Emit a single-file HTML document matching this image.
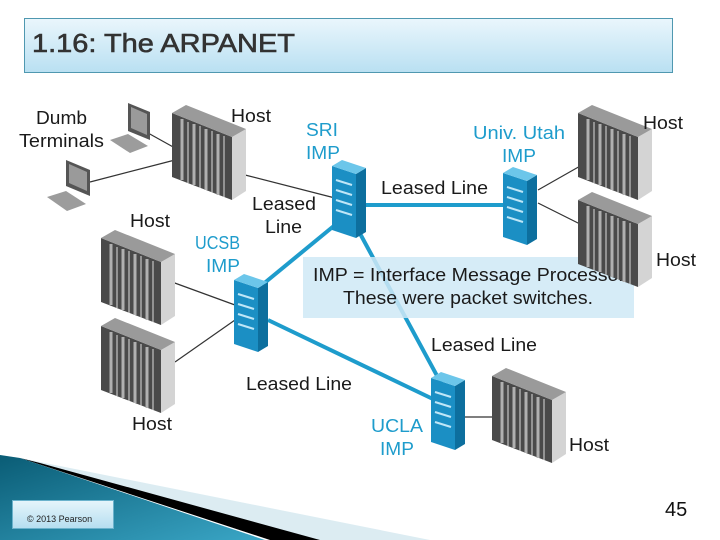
<!DOCTYPE html>
<html><head><meta charset="utf-8"><style>
html,body{margin:0;padding:0;background:#fff;}
svg{display:block;}
text{font-family:"Liberation Sans",Arial,sans-serif;}
</style></head><body>
<svg width="720" height="540" viewBox="0 0 720 540" xmlns="http://www.w3.org/2000/svg">
<defs>
<linearGradient id="tg" x1="0" y1="0" x2="0" y2="1"><stop offset="0" stop-color="#eaf6fc"/><stop offset="1" stop-color="#b9e0f2"/></linearGradient>
<linearGradient id="bg" x1="0" y1="0" x2="1" y2="1"><stop offset="0" stop-color="#0a5c75"/><stop offset="1" stop-color="#3aa6c6"/></linearGradient>
<linearGradient id="cg" x1="0" y1="0" x2="0" y2="1"><stop offset="0" stop-color="#e6f5fb"/><stop offset="1" stop-color="#b5def0"/></linearGradient>
<g id="host">
  <polygon points="0,8 60,32 60,95 0,72" fill="#4a4a4a"/>
  <g stroke="#b0b0b0" stroke-width="3">
    <line x1="10" y1="14" x2="10" y2="75"/><line x1="22" y1="19" x2="22" y2="80"/>
    <line x1="34" y1="24" x2="34" y2="85"/><line x1="46" y1="29" x2="46" y2="90"/>
  </g>
  <g stroke="#dcdcdc" stroke-width="1">
    <line x1="16" y1="17" x2="16" y2="78"/><line x1="28" y1="21" x2="28" y2="83"/>
    <line x1="40" y1="26" x2="40" y2="88"/><line x1="52" y1="31" x2="52" y2="92"/>
  </g>
  <polygon points="60,32 74,24 74,86 60,95" fill="#d4d4d4"/>
  <polygon points="0,8 14,0 74,24 60,32" fill="#9a9a9a"/>
</g>
<g id="imp">
  <polygon points="0,8 24,16 24,80 0,72" fill="#1b8fc4"/>
  <polygon points="24,16 34,10 34,74 24,80" fill="#0d6f9e"/>
  <polygon points="0,8 10,2 34,10 24,16" fill="#6cc6ea"/>
  <g stroke="#bfe6f7" stroke-width="2">
    <line x1="4" y1="22" x2="20" y2="27"/><line x1="4" y1="32" x2="20" y2="37"/>
    <line x1="4" y1="42" x2="20" y2="47"/><line x1="4" y1="52" x2="20" y2="57"/>
  </g>
</g>
</defs>

<rect x="24.5" y="18.5" width="648" height="54" fill="url(#tg)" stroke="#4f98b0"/>
<text x="32" y="52" font-size="26" fill="#333" stroke="#333" stroke-width="0.6" textLength="263" lengthAdjust="spacingAndGlyphs">1.16: The ARPANET</text>

<polygon points="0,455 20,458 430,540 310,540" fill="#dcecf2"/>
<polygon points="20,458 40,463 320,540 270,540" fill="#000"/>
<polygon points="0,455 20,458 265,540 0,540" fill="url(#bg)"/>
<rect x="12.5" y="500.5" width="101" height="28" fill="url(#cg)" stroke="#6ab2cc"/>
<text x="27" y="522" font-size="9" fill="#222">© 2013 Pearson</text>
<text x="665" y="516" font-size="20" fill="#111" font-family="Liberation Serif,serif">45</text>

<g stroke="#333" stroke-width="1.2">
  <line x1="148" y1="133" x2="175" y2="148"/>
  <line x1="90" y1="182" x2="175" y2="160"/>
  <line x1="245" y1="175" x2="335" y2="198"/>
  <line x1="538" y1="190" x2="582" y2="165"/>
  <line x1="538" y1="203" x2="582" y2="225"/>
  <line x1="172" y1="282" x2="235" y2="305"/>
  <line x1="175" y1="362" x2="235" y2="320"/>
  <line x1="465" y1="417" x2="492" y2="417"/>
</g>
<g stroke="#1e9ccc" stroke-width="4" fill="none">
  <line x1="362" y1="205" x2="505" y2="205"/>
  <line x1="335" y1="225" x2="262" y2="285"/>
  <line x1="357" y1="228" x2="442" y2="385"/>
  <line x1="268" y1="320" x2="435" y2="400"/>
</g>

<rect x="303" y="257" width="331" height="61" fill="#cfe9f6" opacity="0.85"/>
<text x="313" y="281" font-size="18" fill="#1a1a1a" textLength="312" lengthAdjust="spacingAndGlyphs">IMP = Interface Message Processor</text>
<text x="343" y="304" font-size="18" fill="#1a1a1a" textLength="250" lengthAdjust="spacingAndGlyphs">These were packet switches.</text>

<polygon points="128,103 150,112 150,140 128,131" fill="#555"/><polygon points="131,107 147,114 147,135 131,128" fill="#9a9a9a"/>
<polygon points="110,140 128,134 148,146 130,153" fill="#9c9c9c"/>
<polygon points="66,160 90,170 90,196 66,186" fill="#555"/><polygon points="69,164 87,172 87,191 69,183" fill="#9a9a9a"/>
<polygon points="47,197 66,191 86,204 67,211" fill="#9c9c9c"/>

<use href="#host" x="172" y="105"/>
<use href="#host" x="578" y="105"/>
<use href="#host" x="578" y="192"/>
<use href="#host" x="101" y="230"/>
<use href="#host" x="101" y="318"/>
<use href="#host" x="492" y="368"/>
<use href="#imp" x="332" y="158"/>
<use href="#imp" x="503" y="165"/>
<use href="#imp" x="234" y="272"/>
<use href="#imp" x="431" y="370"/>

<g font-size="18" fill="#1a1a1a">
<text x="36" y="124" textLength="51" lengthAdjust="spacingAndGlyphs">Dumb</text>
<text x="19" y="147" textLength="85" lengthAdjust="spacingAndGlyphs">Terminals</text>
<text x="231" y="122" textLength="40" lengthAdjust="spacingAndGlyphs">Host</text>
<text x="643" y="129" textLength="40" lengthAdjust="spacingAndGlyphs">Host</text>
<text x="656" y="266" textLength="40" lengthAdjust="spacingAndGlyphs">Host</text>
<text x="130" y="227" textLength="40" lengthAdjust="spacingAndGlyphs">Host</text>
<text x="132" y="430" textLength="40" lengthAdjust="spacingAndGlyphs">Host</text>
<text x="569" y="451" textLength="40" lengthAdjust="spacingAndGlyphs">Host</text>
<text x="252" y="210" textLength="64" lengthAdjust="spacingAndGlyphs">Leased</text>
<text x="265" y="233" textLength="37" lengthAdjust="spacingAndGlyphs">Line</text>
<text x="381" y="194" textLength="107" lengthAdjust="spacingAndGlyphs">Leased Line</text>
<text x="431" y="351" textLength="106" lengthAdjust="spacingAndGlyphs">Leased Line</text>
<text x="246" y="390" textLength="106" lengthAdjust="spacingAndGlyphs">Leased Line</text>
</g>
<g font-size="18" fill="#1e9ccc">
<text x="306" y="136" textLength="32" lengthAdjust="spacingAndGlyphs">SRI</text><text x="306" y="159" textLength="34" lengthAdjust="spacingAndGlyphs">IMP</text>
<text x="473" y="139" textLength="92" lengthAdjust="spacingAndGlyphs">Univ. Utah</text><text x="502" y="162" textLength="34" lengthAdjust="spacingAndGlyphs">IMP</text>
<text x="195" y="249" textLength="45" lengthAdjust="spacingAndGlyphs">UCSB</text><text x="206" y="272" textLength="34" lengthAdjust="spacingAndGlyphs">IMP</text>
<text x="371" y="432" textLength="52" lengthAdjust="spacingAndGlyphs">UCLA</text><text x="380" y="455" textLength="34" lengthAdjust="spacingAndGlyphs">IMP</text>
</g>
</svg>
</body></html>
